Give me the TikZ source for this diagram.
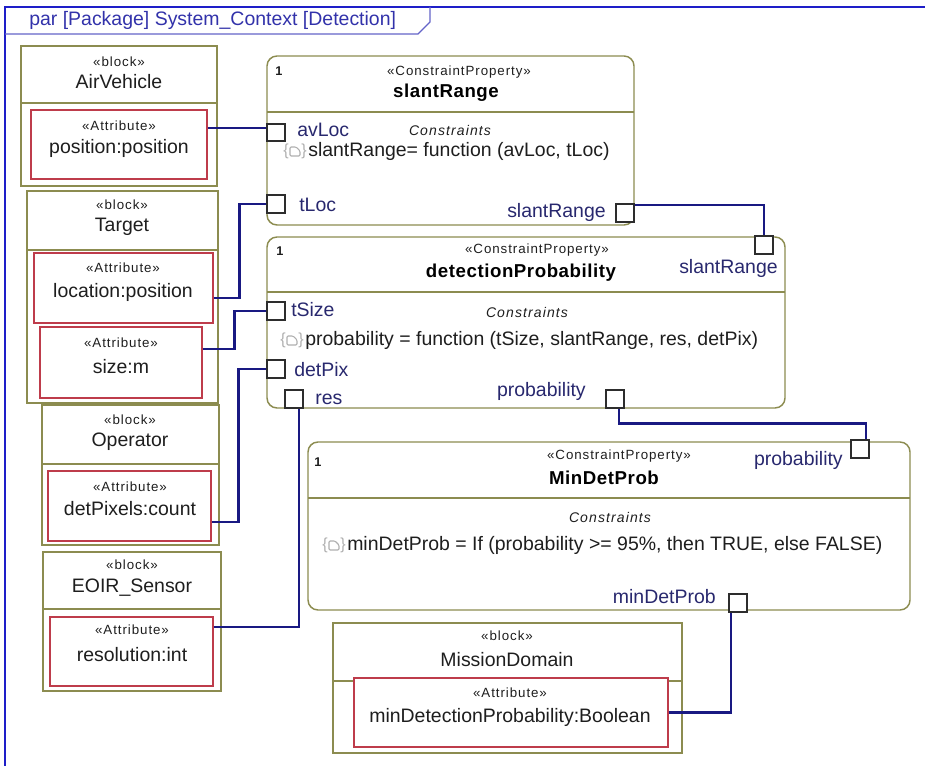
\documentclass[tikz,border=0pt]{standalone}
\usepackage{fontspec}
\setmainfont{Liberation Sans}
\usetikzlibrary{fit,calc}

\definecolor{blockol}{RGB}{140,140,80}
\definecolor{attrred}{RGB}{190,60,75}
\definecolor{connblue}{RGB}{25,25,130}
\definecolor{frameblue}{RGB}{30,30,200}
\definecolor{tabblue}{RGB}{100,100,200}
\definecolor{titleblue}{RGB}{50,50,170}
\definecolor{portblue}{RGB}{40,40,110}
\definecolor{portgray}{RGB}{45,45,45}
\definecolor{textdark}{RGB}{30,30,30}
\definecolor{icongray}{RGB}{175,175,175}

\begin{document}
\begin{tikzpicture}[x=0.75pt,y=-0.75pt,
  blockbox/.style={draw=blockol,line width=1.1pt,inner sep=0pt},
  attrbox/.style={draw=attrred,fill=white,line width=1.1pt,inner sep=0pt},
  cbox/.style={draw=blockol,line width=1.1pt,rounded corners=7.5pt,inner sep=0pt},
  portbox/.style={draw=portgray,fill=white,line width=1.1pt,inner sep=0pt},
  conn/.style={draw=connblue,line width=1.9pt},
  divider/.style={draw=blockol,line width=1.1pt},
  stereo/.style={inner sep=0pt,text=textdark,
    font=\fontsize{10}{11}\selectfont\addfontfeature{LetterSpace=7}},
  maintxt/.style={inner sep=0pt,text=textdark,font=\fontsize{14.6}{16}\selectfont},
  pname/.style={inner sep=0pt,text=portblue,font=\fontsize{14.6}{16}\selectfont},
  bname/.style={inner sep=0pt,text=black,
    font=\fontsize{14}{15}\selectfont\bfseries\addfontfeature{LetterSpace=3}},
  constr/.style={inner sep=0pt,text=textdark,
    font=\fontsize{10.5}{12}\selectfont\itshape\addfontfeature{LetterSpace=8}},
  mult/.style={inner sep=0pt,text=textdark,font=\fontsize{9.5}{10}\selectfont\bfseries},
  cicon/.pic={
    \node[inner sep=0pt,text=icongray,font=\fontsize{12}{13}\selectfont] at (-9,0) {\{};
    \node[inner sep=0pt,text=icongray,font=\fontsize{12}{13}\selectfont] at (9,0) {\}};
    \draw[icongray,line width=0.8pt,rounded corners=0.8pt]
      (-5,5) -- (-5,-4) -- (1,-4) -- (5,0) -- (5,5) -- cycle;
  }]

\useasboundingbox (0,0) rectangle (925,766);

% diagram frame and its heading tab
\draw[frameblue,line width=1.2pt] (5,766) -- (5,7) -- (925,7);
\draw[tabblue,line width=1pt] (5,34) -- (418,34) -- (430,22) -- (430,7);
\node[anchor=west,inner sep=0pt,text=titleblue,font=\fontsize{14.6}{16}\selectfont]
  (title) at (29,20) {par [Package] System\_Context [Detection]};

% ---------- blocks ----------
% AirVehicle
\node[blockbox,fit={(21,46) (217,186)}] (av) {};
\draw[divider] (21,103) -- (217,103);
\node[stereo] (avS) at (119,62) {«block»};
\node[maintxt] (avN) at (119,82) {AirVehicle};
\node[attrbox,fit={(31,110) (207,179)}] (posA) {};
\node[stereo] (posS) at (119,126) {«Attribute»};
\node[maintxt] (posN) at (119,148) {position:position};

% Target
\node[blockbox,fit={(27,191) (218,403)}] (tg) {};
\draw[divider] (27,250) -- (218,250);
\node[stereo] (tgS) at (122,205) {«block»};
\node[maintxt] (tgN) at (122,227) {Target};
\node[attrbox,fit={(34,253) (213,323)}] (locA) {};
\node[stereo] (locS) at (123,268) {«Attribute»};
\node[maintxt] (locN) at (123,292) {location:position};
\node[attrbox,fit={(40,327) (202,398)}] (sizeA) {};
\node[stereo] (sizeS) at (121,343) {«Attribute»};
\node[maintxt] (sizeN) at (121,367) {size:m};

% Operator
\node[blockbox,fit={(42,405) (219,545)}] (op) {};
\draw[divider] (42,464) -- (219,464);
\node[stereo] (opS) at (130,420) {«block»};
\node[maintxt] (opN) at (130,442) {Operator};
\node[attrbox,fit={(48,471) (211,541)}] (detA) {};
\node[stereo] (detS) at (130,487) {«Attribute»};
\node[maintxt] (detN) at (130,509) {detPixels:count};

% EOIR_Sensor
\node[blockbox,fit={(43,552) (221,691)}] (eo) {};
\draw[divider] (43,609) -- (221,609);
\node[stereo] (eoS) at (132,565) {«block»};
\node[maintxt] (eoN) at (132,588) {EOIR\_Sensor};
\node[attrbox,fit={(50,617) (213,686)}] (resA) {};
\node[stereo] (resS) at (132,630) {«Attribute»};
\node[maintxt] (resN) at (132,655) {resolution:int};

% MissionDomain
\node[blockbox,fit={(333,623) (682,753)}] (md) {};
\draw[divider] (333,681) -- (682,681);
\node[stereo] (mdS) at (507,636) {«block»};
\node[maintxt] (mdN) at (507,660) {MissionDomain};
\node[attrbox,fit={(354,678) (668,747)}] (mdA) {};
\node[stereo] (mdAS) at (510,693) {«Attribute»};
\node[maintxt] (mdAN) at (510,717) {minDetectionProbability:Boolean};

% ---------- constraint properties ----------
% slantRange
\node[cbox,fit={(267,56) (634,225)}] (srBox) {};
\draw[divider] (267,112) -- (634,112);
\node[mult] (srM) at (279,71) {1};
\node[stereo] (srS) at (459,72) {«ConstraintProperty»};
\node[bname] (srN) at (446,93) {slantRange};
\node[constr] (srC) at (450,131) {Constraints};
\pic at (295,151) {cicon};
\node[maintxt,anchor=west] (srE) at (308,151) {slantRange= function (avLoc, tLoc)};

% detectionProbability
\node[cbox,fit={(267,237) (785,408)}] (dpBox) {};
\draw[divider] (267,292) -- (785,292);
\node[mult] (dpM) at (280,251) {1};
\node[stereo] (dpS) at (537,250) {«ConstraintProperty»};
\node[bname] (dpN) at (521,273) {detectionProbability};
\node[constr] (dpC) at (527,312) {Constraints};
\pic at (292,340) {cicon};
\node[maintxt,anchor=west] (dpE) at (305,340)
  {probability = function (tSize, slantRange, res, detPix)};

% MinDetProb
\node[cbox,fit={(308,442) (910,610)}] (mpBox) {};
\draw[divider] (308,498) -- (910,498);
\node[mult] (mpM) at (318,462) {1};
\node[stereo] (mpS) at (619,456) {«ConstraintProperty»};
\node[bname] (mpN) at (604,478) {MinDetProb};
\node[constr] (mpC) at (610,517) {Constraints};
\pic at (334,545) {cicon};
\node[maintxt,anchor=west] (mpE) at (347,545)
  {minDetProb = If (probability >= 95\%, then TRUE, else FALSE)};

% ---------- ports ----------
\node[portbox,fit={(267,124) (285,141)}] (avLoc) {};
\node[pname,anchor=west] (avLocL) at (297,130) {avLoc};
\node[portbox,fit={(267,195) (285,213)}] (tLoc) {};
\node[pname,anchor=west] (tLocL) at (299,205) {tLoc};
\node[portbox,fit={(616,204) (634,222)}] (slantOut) {};
\node[pname,anchor=east] (slantOutL) at (606,212) {slantRange};

\node[portbox,fit={(755,236) (773,254)}] (slantIn) {};
\node[pname,anchor=east] (slantInL) at (778,268) {slantRange};
\node[portbox,fit={(267,302) (285,320)}] (tSize) {};
\node[pname,anchor=west] (tSizeL) at (291,310) {tSize};
\node[portbox,fit={(267,360) (285,378)}] (detPix) {};
\node[pname,anchor=west] (detPixL) at (294,370) {detPix};
\node[portbox,fit={(285,390) (303,408)}] (res) {};
\node[pname,anchor=west] (resL) at (315,399) {res};
\node[portbox,fit={(606,390) (624,408)}] (probOut) {};
\node[pname,anchor=east] (probOutL) at (586,391) {probability};

\node[portbox,fit={(851,440) (869,458)}] (probIn) {};
\node[pname,anchor=east] (probInL) at (843,460) {probability};
\node[portbox,fit={(729,594) (747,612)}] (mdOut) {};
\node[pname,anchor=east] (mdOutL) at (716,597) {minDetProb};

% ---------- bindings ----------
\draw[conn] ($(posA.east)+(0,-16.5)$) -- ($(avLoc.west)+(0,-4.5)$);
\draw[conn] ($(locA.east)+(0,10)$) -| ($(tLoc.west)+(-27,0)$) -- (tLoc.west);
\draw[conn] ($(sizeA.east)+(0,-13.5)$) -| ($(tSize.west)+(-32,0)$) -- (tSize.west);
\draw[conn] ($(detA.east)+(0,16)$) -| ($(detPix.west)+(-28,0)$) -- (detPix.west);
\draw[conn] ($(resA.east)+(0,-24.5)$) -| ($(res.south)+(5,0)$);
\draw[conn] ($(slantOut.east)+(0,-8)$) -| (slantIn.north);
\draw[conn] ($(probOut.south)+(4,0)$) -- ++(0,15) -| ($(probIn.north)+(6,0)$);
\draw[conn] ($(mdOut.south)+(-7,0)$) |- (mdA.east);

% redraw port outlines above the binding ends
\foreach \p in {avLoc,tLoc,slantOut,slantIn,tSize,detPix,res,probOut,probIn,mdOut}
  \draw[portgray,line width=1.1pt] (\p.south west) rectangle (\p.north east);

\end{tikzpicture}
\end{document}
